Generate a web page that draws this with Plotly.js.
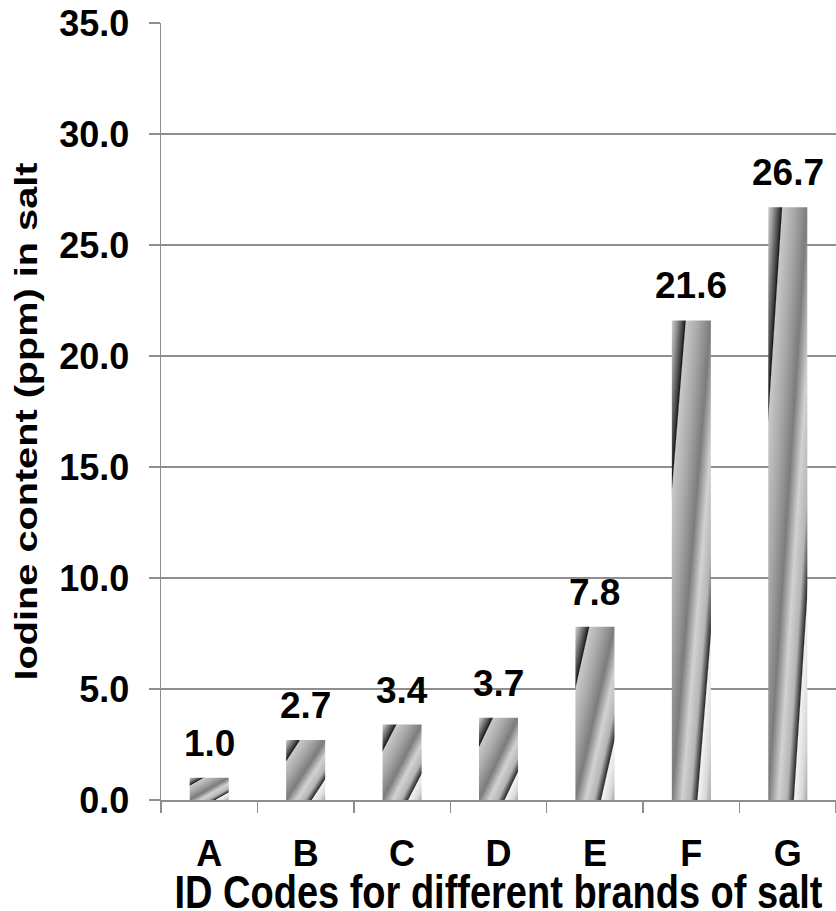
<!DOCTYPE html>
<html>
<head>
<meta charset="utf-8">
<script src="https://cdn.plot.ly/plotly-3.0.1.min.js"></script>
<style>
  html, body { margin: 0; padding: 0; background: #ffffff; }
  #chart { width: 836px; height: 911px; }
</style>
</head>
<body>
<div id="chart"></div>
<script>
// Iodine content measured in seven brands of salt
const brandCodes = ['A', 'B', 'C', 'D', 'E', 'F', 'G'];
const iodinePpm = [1.0, 2.7, 3.4, 3.7, 7.8, 21.6, 26.7];
const yTickValues = [0, 5, 10, 15, 20, 25, 30, 35];
const yTickLabels = ['0.0', '5.0', '10.0', '15.0', '20.0', '25.0', '30.0', '35.0'];

const FONT = 'Liberation Sans, Arial, Helvetica, sans-serif';
const AXIS_GREY = '#8e8e8e';

const barTrace = {
  type: 'bar',
  x: brandCodes,
  y: iodinePpm,
  width: 0.405,
  marker: { color: '#b4b4b4', line: { width: 0 } },
  hoverinfo: 'x+y',
  showlegend: false
};

// value labels sitting above each bar
const valueLabels = brandCodes.map((code, i) => ({
  x: code,
  y: iodinePpm[i],
  xref: 'x',
  yref: 'y',
  text: iodinePpm[i].toFixed(1),
  showarrow: false,
  yanchor: 'bottom',
  yshift: 12,
  font: { family: FONT, size: 37, color: '#000000', weight: 'bold' }
}));

const layout = {
  width: 836,
  height: 911,
  margin: { l: 161, r: 0, t: 23, b: 111 },
  paper_bgcolor: '#ffffff',
  plot_bgcolor: '#ffffff',
  font: { family: FONT, color: '#000000' },
  xaxis: {
    type: 'category',
    range: [-0.5, 6.5],
    showgrid: false,
    showline: true,
    linecolor: AXIS_GREY,
    linewidth: 1.5,
    ticks: 'outside',
    tickson: 'boundaries',
    ticklen: 11,
    tickwidth: 1.5,
    tickcolor: AXIS_GREY,
    ticklabelstandoff: 21,
    tickfont: { family: FONT, size: 36, color: '#000000', weight: 'bold' },
    title: {
      text: 'ID Codes for different brands of salt',
      font: { family: FONT, size: 38, color: '#000000', weight: 'bold' },
      standoff: 0
    },
    fixedrange: true
  },
  yaxis: {
    range: [0, 35],
    tickvals: yTickValues,
    ticktext: yTickLabels,
    showgrid: true,
    gridcolor: AXIS_GREY,
    gridwidth: 1.5,
    zeroline: false,
    showline: true,
    linecolor: AXIS_GREY,
    linewidth: 1.5,
    ticks: 'outside',
    ticklen: 11,
    tickwidth: 1.5,
    tickcolor: AXIS_GREY,
    ticklabelstandoff: 12,
    tickfont: { family: FONT, size: 36, color: '#000000', weight: 'bold' },
    title: {
      text: 'Iodine content (ppm) in salt',
      font: { family: FONT, size: 31, color: '#000000', weight: 'bold' },
      standoff: 12
    },
    fixedrange: true
  },
  annotations: valueLabels,
  bargap: 0.595
};

// metallic diagonal sheen applied to each bar body
function addSheen(gd) {
  const svg = gd.querySelector('svg.main-svg');
  if (!svg) return;
  const ns = 'http://www.w3.org/2000/svg';
  let defs = svg.querySelector('defs');
  if (!defs) { defs = document.createElementNS(ns, 'defs'); svg.insertBefore(defs, svg.firstChild); }
  const grad = document.createElementNS(ns, 'linearGradient');
  grad.setAttribute('id', 'barSheen');
  grad.setAttribute('gradientUnits', 'objectBoundingBox');
  grad.setAttribute('x1', '0'); grad.setAttribute('y1', '0');
  grad.setAttribute('x2', '1'); grad.setAttribute('y2', '1');
  const stops = [
    [0.00, '#d0d0d0'], [0.06, '#9a9a9a'], [0.15, '#3a3a3a'], [0.17, '#1a1a1a'],
    [0.185, '#c8c8c8'], [0.34, '#a8a8a8'], [0.50, '#7c7c7c'], [0.63, '#d2d2d2'],
    [0.74, '#b4b4b4'], [0.82, '#2e2e2e'], [0.835, '#f2f2f2'], [0.93, '#d8d8d8'], [1.00, '#a6a6a6']
  ];
  stops.forEach(([o, c]) => {
    const s = document.createElementNS(ns, 'stop');
    s.setAttribute('offset', o);
    s.setAttribute('stop-color', c);
    grad.appendChild(s);
  });
  defs.appendChild(grad);
  gd.querySelectorAll('.barlayer .point path').forEach(p => {
    p.style.setProperty('fill', 'url(#barSheen)');
  });
}

// tall, narrow title lettering: stretch each title along the vertical page direction
function stretchTitles(gd) {
  const kx = 1.22, ky = 1.28;
  const xt = gd.querySelector('.g-xtitle text');
  if (xt) {
    const bb = xt.getBBox();
    // baseline sits about 81% down the ascent+descent box
    const baselineNow = bb.y + bb.height * 0.81;
    const baselineWanted = 905;
    xt.setAttribute('transform',
      'translate(0,' + baselineWanted + ') scale(1,' + kx + ') translate(0,' + (-baselineNow) + ')');
  }
  const yt = gd.querySelector('.g-ytitle text');
  if (yt) {
    const x = parseFloat(yt.getAttribute('x'));
    const y = parseFloat(yt.getAttribute('y'));
    yt.setAttribute('transform',
      'translate(0,10) rotate(-90,' + x + ',' + y + ') translate(' + x + ',' + y + ') scale(' + ky + ',1) translate(' + (-x) + ',' + (-y) + ')');
  }
}

Plotly.newPlot('chart', [barTrace], layout, { displayModeBar: false, staticPlot: true })
  .then(gd => { addSheen(gd); stretchTitles(gd); });
</script>
</body>
</html>
